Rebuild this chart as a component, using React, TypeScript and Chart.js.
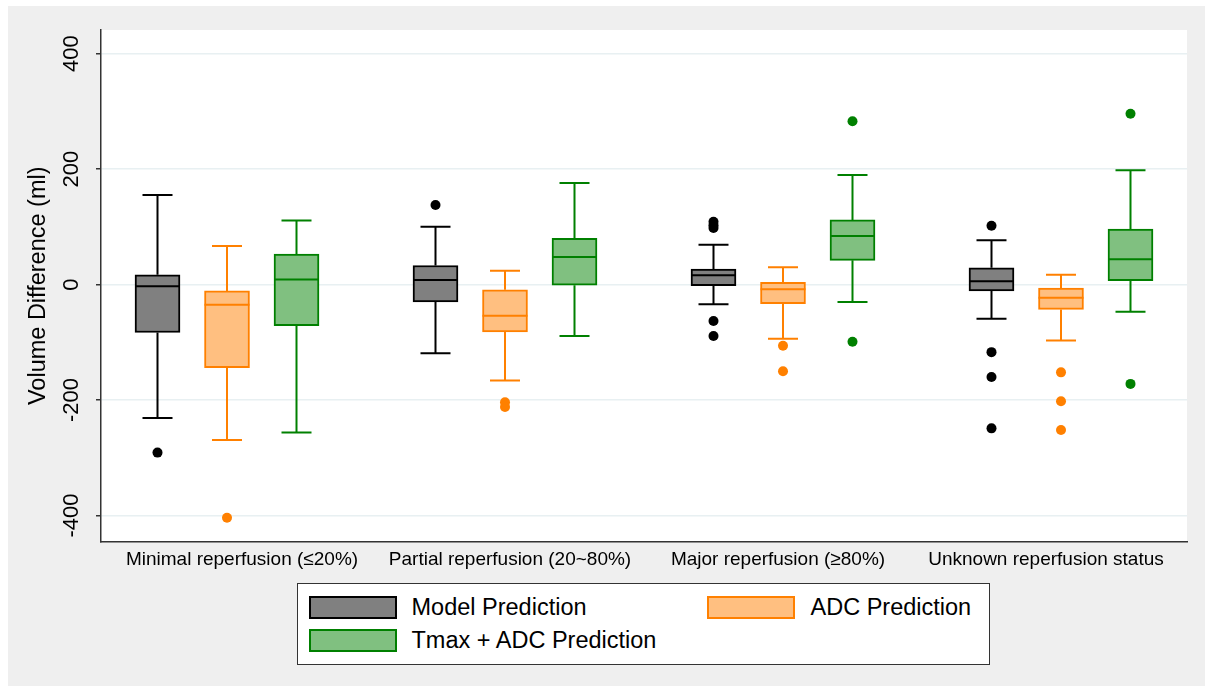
import React, { useEffect, useRef } from "react";
import { Chart, registerables } from "chart.js";

Chart.register(...registerables);

// ---------- data ----------
const categories = [
  "Minimal reperfusion (≤20%)",
  "Partial reperfusion (20~80%)",
  "Major reperfusion (≥80%)",
  "Unknown reperfusion status",
];
const seriesNames = ["Model Prediction", "ADC Prediction", "Tmax + ADC Prediction"];

const modelLowerWhisker = [-231, -119, -34, -59];
const modelQ1 = [-83, -30, -2, -11];
const modelMedian = [-3, 8, 16, 6];
const modelQ3 = [17, 33, 27, 29];
const modelUpperWhisker = [155, 100, 69, 77];
const modelOutliers = [[-291], [138], [109, 103, 98, -63, -89], [102, -117, -160, -249]];

const adcLowerWhisker = [-269, -166, -94, -97];
const adcQ1 = [-144, -82, -33, -43];
const adcMedian = [-35, -54, -8, -23];
const adcQ3 = [-11, -9, 4, -6];
const adcUpperWhisker = [67, 24, 30, 17];
const adcOutliers = [[-404], [-204, -212], [-106, -150], [-152, -202, -252]];

const tmaxLowerWhisker = [-256, -89, -30, -47];
const tmaxQ1 = [-71, -1, 42, 7];
const tmaxMedian = [9, 48, 84, 44];
const tmaxQ3 = [53, 80, 112, 96];
const tmaxUpperWhisker = [111, 176, 190, 198];
const tmaxOutliers = [[], [], [283, -99], [296, -172]];

const yTickValues = [-400, -200, 0, 200, 400];
const yAxisTitle = "Volume Difference (ml)";

// ---------- styles ----------
const FONT = "'Liberation Sans', Arial, Helvetica, sans-serif";
const seriesFill = ["#808080", "#ffbf80", "#80c080"];
const seriesBorder = ["#000000", "#ff8000", "#008000"];

const boxSeries = [
  { lower: modelLowerWhisker, q1: modelQ1, median: modelMedian, q3: modelQ3, upper: modelUpperWhisker, outliers: modelOutliers },
  { lower: adcLowerWhisker, q1: adcQ1, median: adcMedian, q3: adcQ3, upper: adcUpperWhisker, outliers: adcOutliers },
  { lower: tmaxLowerWhisker, q1: tmaxQ1, median: tmaxMedian, q3: tmaxQ3, upper: tmaxUpperWhisker, outliers: tmaxOutliers },
];

const SLOTS_PER_GROUP = 4; // 3 boxes + 1 gap
const slotOf = (g: number, s: number) => g * SLOTS_PER_GROUP + s;
const groupMid = ((categories.length - 1) * SLOTS_PER_GROUP + 2) / 2;
const labelSpacing = 3.856;

const whiskerPlugin = {
  id: "boxWhiskers",
  afterDatasetsDraw(chart: any) {
    const { ctx, scales } = chart;
    const x = scales.x;
    const y = scales.y;
    const capHalf = 15;
    const boxHalf = 22.5;
    ctx.save();
    ctx.lineCap = "butt";
    boxSeries.forEach((s, si) => {
      ctx.strokeStyle = seriesBorder[si];
      ctx.lineWidth = 2;
      categories.forEach((_, g) => {
        const cx = x.getPixelForValue(slotOf(g, si));
        const yUp = y.getPixelForValue(s.upper[g]);
        const yQ3 = y.getPixelForValue(s.q3[g]);
        const yQ1 = y.getPixelForValue(s.q1[g]);
        const yLo = y.getPixelForValue(s.lower[g]);
        const yMed = y.getPixelForValue(s.median[g]);
        ctx.beginPath();
        ctx.moveTo(cx, yQ3);
        ctx.lineTo(cx, yUp);
        ctx.moveTo(cx - capHalf, yUp);
        ctx.lineTo(cx + capHalf, yUp);
        ctx.moveTo(cx, yQ1);
        ctx.lineTo(cx, yLo);
        ctx.moveTo(cx - capHalf, yLo);
        ctx.lineTo(cx + capHalf, yLo);
        ctx.moveTo(cx - boxHalf, yMed);
        ctx.lineTo(cx + boxHalf, yMed);
        ctx.stroke();
      });
    });
    ctx.restore();
  },
};

const plotBgPlugin = {
  id: "plotBg",
  beforeDraw(chart: any) {
    const { ctx, chartArea } = chart;
    ctx.save();
    ctx.fillStyle = "#ffffff";
    ctx.fillRect(chartArea.left, chartArea.top, chartArea.right - chartArea.left, chartArea.bottom - chartArea.top);
    ctx.restore();
  },
};

export default function App() {
  const canvasRef = useRef<HTMLCanvasElement | null>(null);

  useEffect(() => {
    if (!canvasRef.current) return;
    const boxDatasets = boxSeries.map((s, si) => ({
      type: "bar" as const,
      label: seriesNames[si],
      data: categories.map((_, g) => ({ x: slotOf(g, si), y: [s.q1[g], s.q3[g]] })),
      backgroundColor: seriesFill[si],
      borderColor: seriesBorder[si],
      borderWidth: 2,
      borderSkipped: false,
      barThickness: 45,
      grouped: false,
      order: 2,
    }));
    const outlierDatasets = boxSeries.map((s, si) => ({
      type: "scatter" as const,
      label: seriesNames[si] + " outliers",
      data: s.outliers.flatMap((vals, g) => vals.map((v) => ({ x: slotOf(g, si), y: v }))),
      pointRadius: 5,
      pointBackgroundColor: seriesBorder[si],
      pointBorderWidth: 0,
      showLine: false,
      order: 1,
    }));

    const chart = new Chart(canvasRef.current, {
      type: "bar",
      data: { datasets: [...boxDatasets, ...outlierDatasets] as any },
      plugins: [plotBgPlugin, whiskerPlugin],
      options: {
        animation: false,
        responsive: false,
        events: [],
        layout: { padding: { top: 24, right: 18, bottom: 0, left: 0 } },
        plugins: { legend: { display: false }, tooltip: { enabled: false } },
        scales: {
          x: {
            type: "linear",
            offset: false,
            min: -0.813,
            max: 14.813,
            grid: { display: false, drawTicks: false, offset: false },
            border: { display: true, color: "#333333", width: 1.5 },
            afterBuildTicks: (s: any) => {
              s.ticks = categories.map((_, i) => ({ value: groupMid + (i - 1.5) * labelSpacing }));
            },
            ticks: {
              autoSkip: false,
              minRotation: 0,
              maxRotation: 0,
              padding: 7,
              color: "#000000",
              font: { size: 19, family: FONT },
              callback: (_v: any, i: number) => categories[i],
            },
            afterFit: (s: any) => {
              s.height = 144.5;
            },
          },
          y: {
            type: "linear",
            min: -445,
            max: 441,
            afterBuildTicks: (s: any) => {
              s.ticks = yTickValues.map((v) => ({ value: v }));
            },
            grid: {
              color: "#e8f0f2",
              lineWidth: 1.5,
              tickColor: "#333333",
              tickLength: 5,
              tickWidth: 1.5,
            },
            border: { display: true, color: "#333333", width: 1.5 },
            ticks: {
              minRotation: 90,
              maxRotation: 90,
              crossAlign: "center",
              padding: 2,
              color: "#000000",
              font: { size: 22, family: FONT },
              callback: (v: any) => String(v),
            },
            title: {
              display: true,
              text: yAxisTitle,
              color: "#000000",
              font: { size: 23.5, family: FONT },
              padding: { top: 16, bottom: 0 },
            },
            afterFit: (s: any) => {
              s.width = 93;
            },
          },
        },
      } as any,
    });
    return () => chart.destroy();
  }, []);

  const legendPos = [
    { swatchLeft: 10.5, top: 12, textLeft: 113.5 },
    { swatchLeft: 409, top: 12, textLeft: 512.5 },
    { swatchLeft: 10.5, top: 45, textLeft: 113.5 },
  ];

  return (
    <div
      style={{
        position: "absolute",
        left: 8,
        top: 6,
        width: 1197,
        height: 680,
        background: "#efefef",
        overflow: "hidden",
      }}
    >
      <canvas
        ref={canvasRef}
        width={1197}
        height={680}
        style={{ position: "absolute", left: 0, top: 0, width: 1197, height: 680 }}
      />
      <div
        style={{
          position: "absolute",
          left: 289,
          top: 577,
          width: 693,
          height: 82,
          boxSizing: "border-box",
          background: "#ffffff",
          border: "1px solid #333333",
          fontFamily: FONT,
        }}
      >
        {seriesNames.map((name, i) => (
          <React.Fragment key={name}>
            <div
              style={{
                position: "absolute",
                left: legendPos[i].swatchLeft,
                top: legendPos[i].top,
                width: 88,
                height: 23,
                boxSizing: "border-box",
                background: seriesFill[i],
                border: `2px solid ${seriesBorder[i]}`,
              }}
            />
            <div
              style={{
                position: "absolute",
                left: legendPos[i].textLeft,
                top: legendPos[i].top - 3,
                height: 29,
                lineHeight: "29px",
                fontSize: 23.5,
                color: "#000000",
                whiteSpace: "nowrap",
              }}
            >
              {name}
            </div>
          </React.Fragment>
        ))}
      </div>
    </div>
  );
}
